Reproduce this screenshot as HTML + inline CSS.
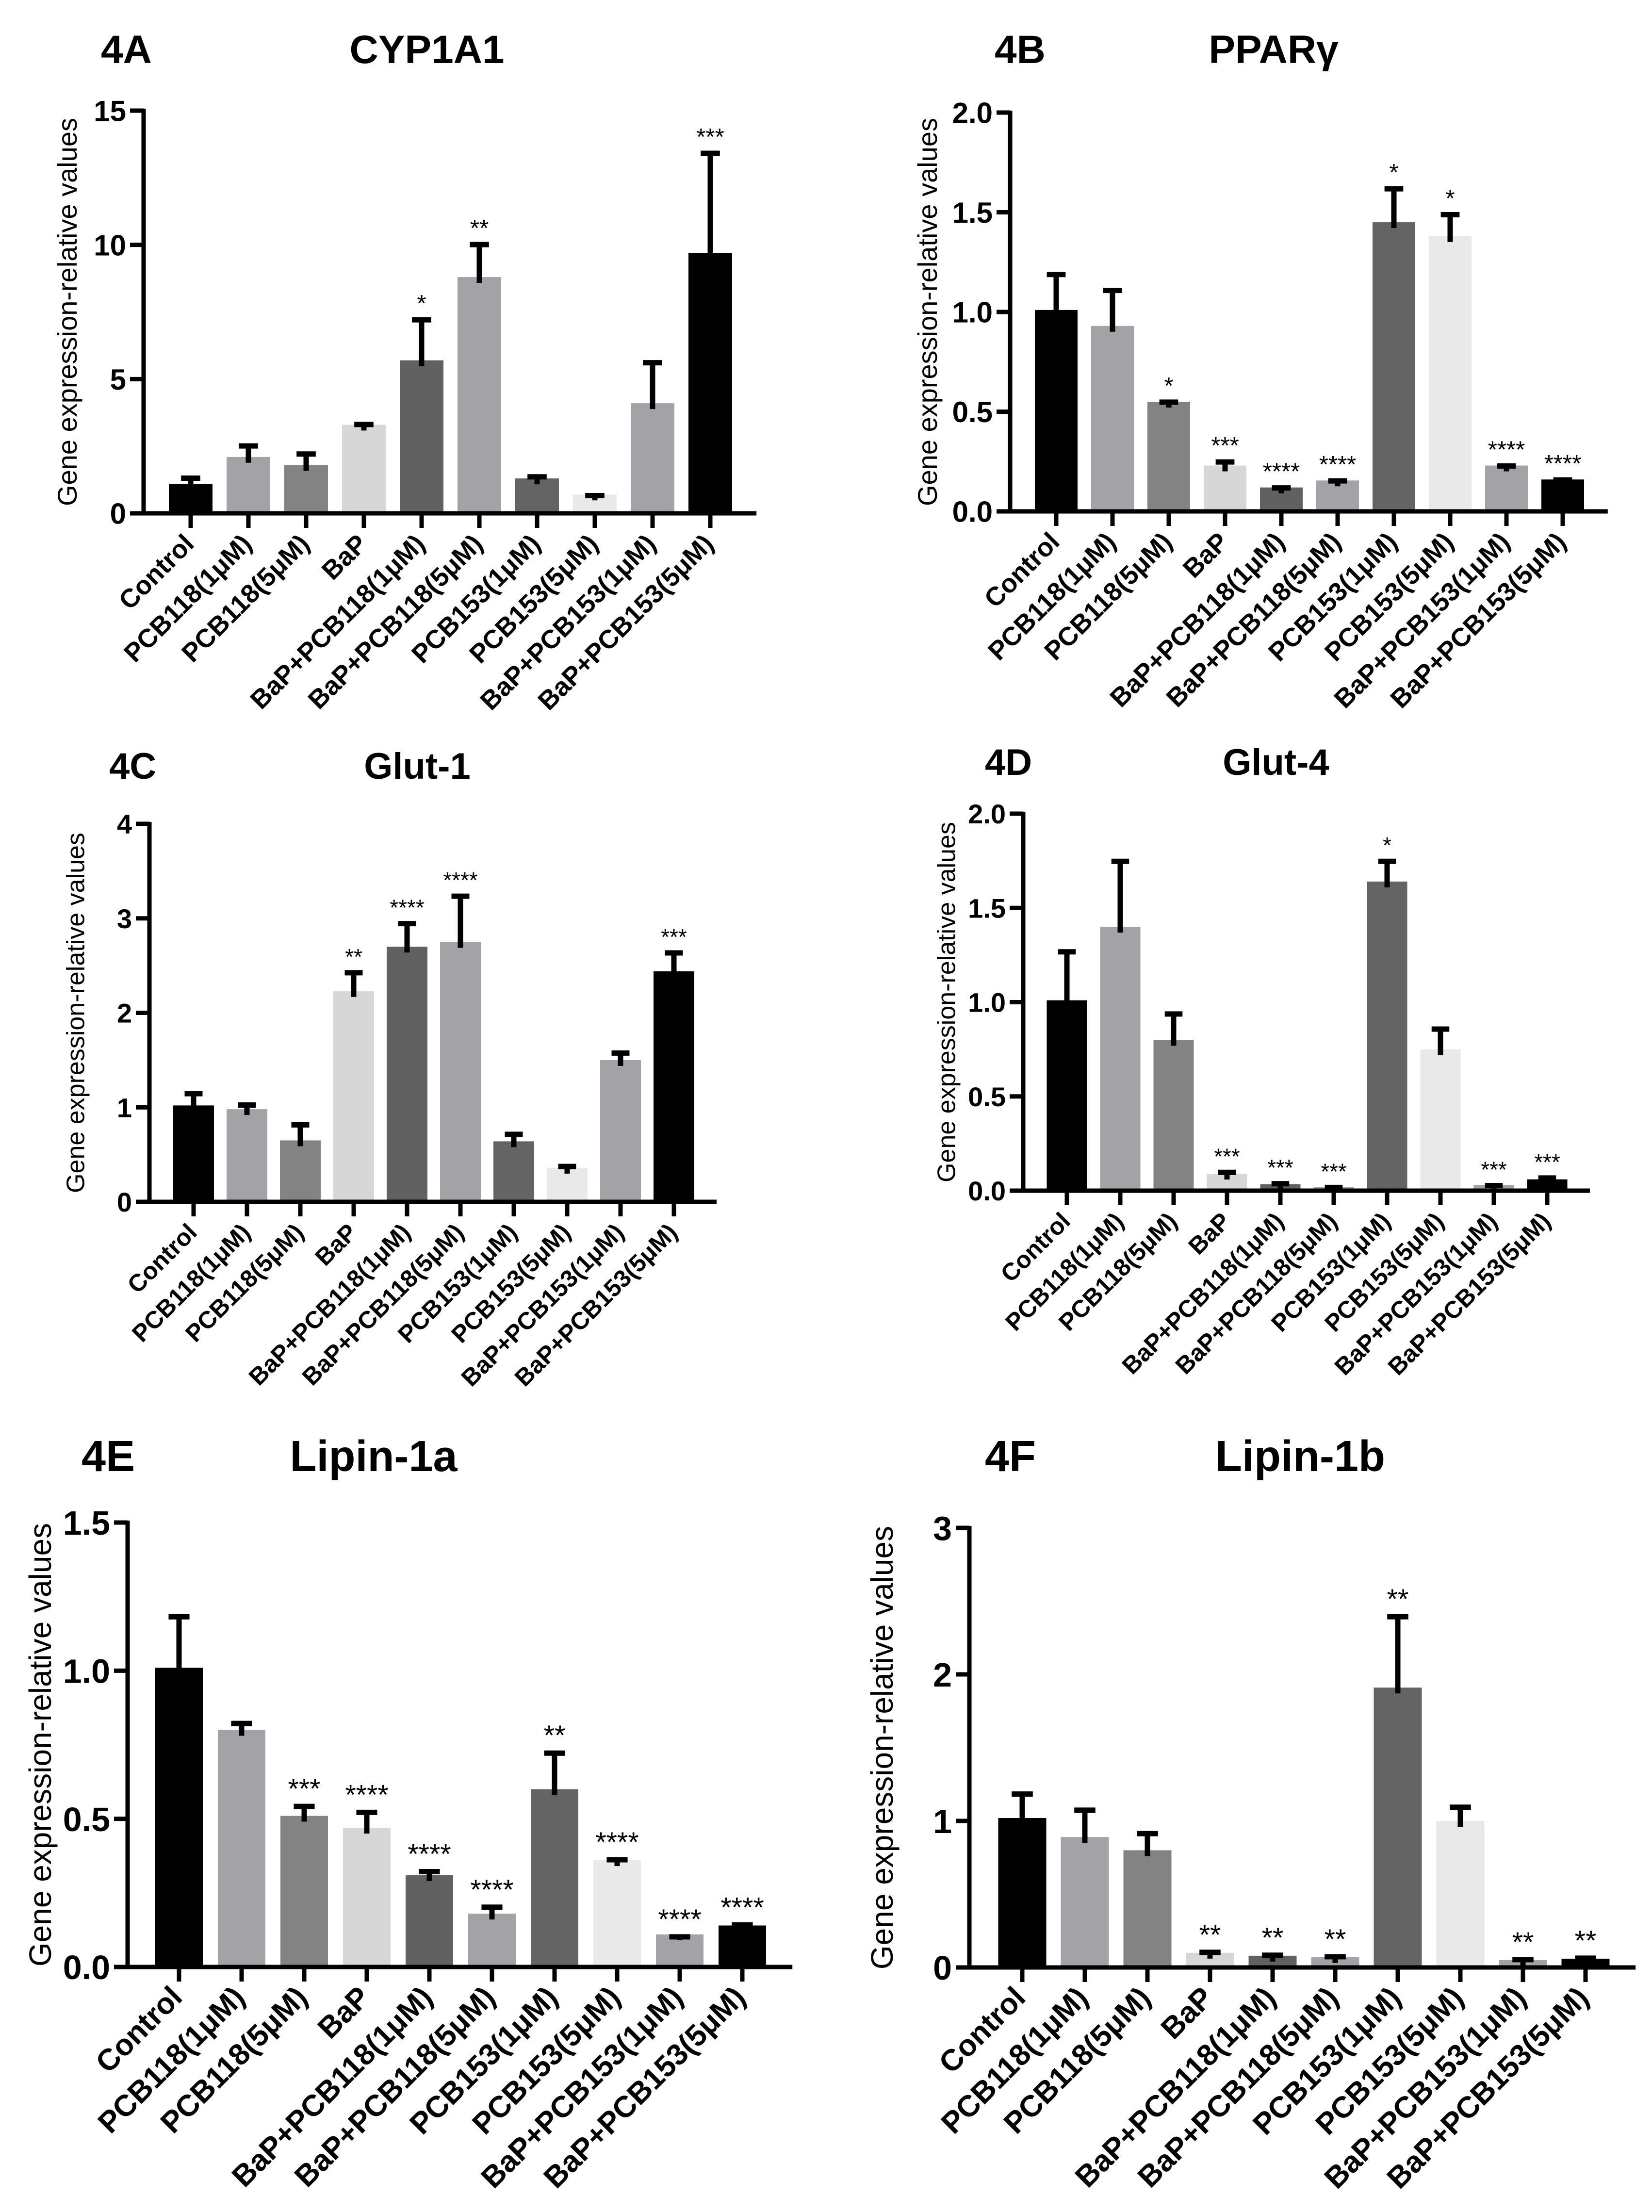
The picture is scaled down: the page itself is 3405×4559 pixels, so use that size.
<!DOCTYPE html>
<html><head><meta charset="utf-8"><style>
html,body{margin:0;padding:0;background:#fff}
svg{display:block;font-family:"Liberation Sans",Arial,sans-serif}
</style></head><body>
<svg id="fig" width="3405" height="4559" viewBox="0 0 3405 4559" xmlns="http://www.w3.org/2000/svg"></svg>
<script>
const categories = ["Control","PCB118(1μM)","PCB118(5μM)","BaP","BaP+PCB118(1μM)","BaP+PCB118(5μM)","PCB153(1μM)","PCB153(5μM)","BaP+PCB153(1μM)","BaP+PCB153(5μM)"];
const barColors = ["#000","#a3a2a7","#838383","#d7d7d7","#616161","#a3a2a7","#646464","#e9e9e9","#a3a2a7","#000"];

const cypMeans = [1.1,2.1,1.8,3.3,5.7,8.8,1.3,0.7,4.1,9.7];
const cypErrors = [1.4,2.6,2.3,3.4,7.3,10.1,1.45,0.75,5.7,13.5];
const cypStars = ["","","","","*","**","","","","***"];
const cypTicks = [0,5,10,15];
const cypTickLabels = ["0","5","10","15"];

const pparMeans = [1.01,0.93,0.55,0.23,0.12,0.155,1.45,1.38,0.23,0.16];
const pparErrors = [1.2,1.12,0.56,0.26,0.13,0.165,1.63,1.5,0.24,0.17];
const pparStars = ["","","*","***","****","****","*","*","****","****"];
const pparTicks = [0,0.5,1,1.5,2];
const pparTickLabels = ["0.0","0.5","1.0","1.5","2.0"];

const glut1Means = [1.02,0.98,0.65,2.23,2.7,2.75,0.64,0.36,1.5,2.44];
const glut1Errors = [1.17,1.05,0.84,2.45,2.97,3.26,0.74,0.4,1.6,2.66];
const glut1Stars = ["","","","**","****","****","","","","***"];
const glut1Ticks = [0,1,2,3,4];
const glut1TickLabels = ["0","1","2","3","4"];

const glut4Means = [1.01,1.4,0.8,0.09,0.035,0.02,1.64,0.75,0.03,0.06];
const glut4Errors = [1.28,1.76,0.95,0.11,0.05,0.03,1.76,0.87,0.04,0.08];
const glut4Stars = ["","","","***","***","***","*","","***","***"];
const glut4Ticks = [0,0.5,1,1.5,2];
const glut4TickLabels = ["0.0","0.5","1.0","1.5","2.0"];

const lipinAMeans = [1.01,0.8,0.51,0.47,0.31,0.18,0.6,0.36,0.11,0.14];
const lipinAErrors = [1.19,0.83,0.55,0.53,0.33,0.21,0.73,0.37,0.11,0.15];
const lipinAStars = ["","","***","****","****","****","**","****","****","****"];
const lipinATicks = [0,0.5,1,1.5];
const lipinATickLabels = ["0.0","0.5","1.0","1.5"];

const lipinBMeans = [1.02,0.89,0.8,0.1,0.08,0.07,1.91,1.0,0.05,0.06];
const lipinBErrors = [1.2,1.09,0.93,0.12,0.1,0.09,2.41,1.11,0.07,0.08];
const lipinBStars = ["","","","**","**","**","**","","**","**"];
const lipinBTicks = [0,1,2,3];
const lipinBTickLabels = ["0","1","2","3"];

const NS="http://www.w3.org/2000/svg";
const svg=document.getElementById('fig');
function mk(tag,attrs,parent,text){const e=document.createElementNS(NS,tag);for(const k in attrs)e.setAttribute(k,attrs[k]);if(text!==undefined)e.textContent=text;parent.appendChild(e);return e;}

const panels=[
 {id:'a',tag:'4A',title:'CYP1A1',means:cypMeans,errs:cypErrors,stars:cypStars,ticks:cypTicks,tl:cypTickLabels,ax:296,y0:1058,yTop:228,max:15,c0:393,sp:119,bw:90,tagX:208,titleX:880,titleY:130,fs:60,tfs:82,xfs:54,ylx:143,yfs:56},
 {id:'b',tag:'4B',title:'PPARγ',means:pparMeans,errs:pparErrors,stars:pparStars,ticks:pparTicks,tl:pparTickLabels,ax:2082,y0:1054,yTop:232,max:2,c0:2177,sp:116,bw:88,tagX:2050,titleX:2625,titleY:130,fs:60,tfs:82,xfs:54,ylx:1916,yfs:56},
 {id:'c',tag:'4C',title:'Glut-1',means:glut1Means,errs:glut1Errors,stars:glut1Stars,ticks:glut1Ticks,tl:glut1TickLabels,ax:308,y0:2477,yTop:1698,max:4,c0:399,sp:110,bw:84,tagX:225,titleX:860,titleY:1605,fs:56,tfs:76,xfs:50,ylx:160,yfs:52},
 {id:'d',tag:'4D',title:'Glut-4',means:glut4Means,errs:glut4Errors,stars:glut4Stars,ticks:glut4Ticks,tl:glut4TickLabels,ax:2109,y0:2454,yTop:1677,max:2,c0:2199,sp:110,bw:83,tagX:2030,titleX:2630,titleY:1597,fs:56,tfs:76,xfs:50,ylx:1955,yfs:52},
 {id:'e',tag:'4E',title:'Lipin-1a',means:lipinAMeans,errs:lipinAErrors,stars:lipinAStars,ticks:lipinATicks,tl:lipinATickLabels,ax:263,y0:4054,yTop:3138,max:1.5,c0:369,sp:129,bw:98,tagX:168,titleX:770,titleY:3032,fs:70,tfs:90,xfs:62,ylx:88,yfs:64},
 {id:'f',tag:'4F',title:'Lipin-1b',means:lipinBMeans,errs:lipinBErrors,stars:lipinBStars,ticks:lipinBTicks,tl:lipinBTickLabels,ax:1998,y0:4055,yTop:3149,max:3,c0:2107,sp:129,bw:99,tagX:2030,titleX:2680,titleY:3032,fs:70,tfs:90,xfs:62,ylx:1823,yfs:64}
];

panels.forEach(p=>{
 const g=mk('g',{},svg);
 
 
 const yScale=v=>p.y0-(v/p.max)*(p.y0-p.yTop);
 const xScale=i=>p.c0+i*p.sp;
 const t1=mk('text',{x:p.tagX,y:p.titleY,'font-size':p.tfs,'font-weight':'bold'},g,p.tag);
 
 
 const t2=mk('text',{x:p.titleX,y:p.titleY,'font-size':p.tfs,'font-weight':'bold','text-anchor':'middle'},g,p.title);
 
 
 const ymid=(p.y0+p.yTop)/2;
 const yl=mk('text',{x:p.ylx,y:ymid,'font-size':p.yfs,'text-anchor':'middle','dominant-baseline':'middle',transform:`rotate(-90 ${p.ylx} ${ymid})`},g,'Gene expression-relative values');
 
 
 p.means.forEach((v,i)=>{
  const x=xScale(i);
  const top=yScale(v);
  const r=mk('rect',{x:x-p.bw/2,y:top,width:p.bw,height:p.y0-top,fill:barColors[i]},g);
  
  
  const et=yScale(p.errs[i]);
  const cw=p.bw*0.44;
  const eb=mk('path',{d:`M${x} ${Math.min(top+12,p.y0)} V${et} M${x-cw/2} ${et+5} H${x+cw/2}`,stroke:'#000','stroke-width':11,fill:'none'},g);
  
  
  if(p.stars[i]){
   const s=mk('text',{x:x,y:et-12,'font-size':p.fs*0.82,'text-anchor':'middle'},g,p.stars[i]);
   
   
  }
  const tk=mk('line',{x1:x,x2:x,y1:p.y0,y2:p.y0+30,stroke:'#000','stroke-width':9},g);
  
  
  const lx=x+10, ly=p.y0+66;
  const lb=mk('text',{x:lx,y:ly,'font-size':p.xfs,'font-weight':'bold','text-anchor':'end',transform:`rotate(-45 ${lx} ${ly})`},g,categories[i]);
  
  
 });
 const endX=xScale(p.means.length-1)+p.sp*0.8;
 const xa=mk('line',{x1:p.ax-28,x2:endX,y1:p.y0,y2:p.y0,stroke:'#000','stroke-width':9},g);
 
 
 const ya=mk('line',{x1:p.ax,x2:p.ax,y1:p.yTop-4,y2:p.y0,stroke:'#000','stroke-width':9},g);
 
 
 p.ticks.forEach((v,j)=>{
  const y=yScale(v);
  const tk=mk('line',{x1:p.ax-28,x2:p.ax,y1:y,y2:y,stroke:'#000','stroke-width':9},g);
  
  
  const tl=mk('text',{x:p.ax-36,y:y+p.fs*0.36,'font-size':p.fs,'font-weight':'bold','text-anchor':'end'},g,p.tl[j]);
  
  
 });
});
</script>
</body></html>
